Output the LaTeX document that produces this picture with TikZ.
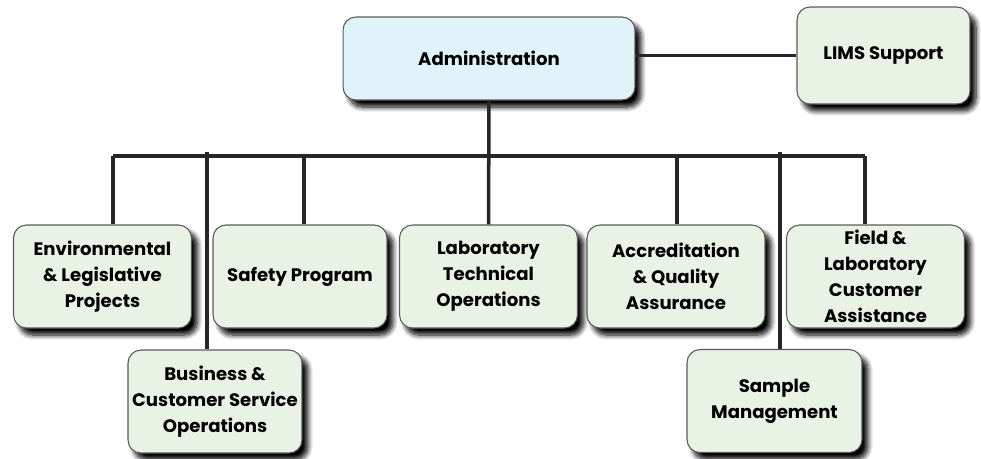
\documentclass[tikz,border=0pt]{standalone}
\usepackage{fontspec}
\setmainfont{Poppins}
\usepackage{tikz}
\usetikzlibrary{positioning,shadows.blur}
\definecolor{unitfill}{HTML}{E8F3E5}
\definecolor{headfill}{HTML}{E0F2FA}
\definecolor{rim}{HTML}{5A5A5A}

\tikzset{
  box/.style={draw=rim, line width=0.6pt, rounded corners=0.26cm,
    align=center, inner sep=0pt, font=\bfseries\fontsize{10.3}{14.7}\selectfont,
    blur shadow={shadow xshift=0.12cm, shadow yshift=-0.14cm,
      shadow blur radius=0.1cm, shadow blur steps=8, shadow opacity=100}},
  unit/.style={box, fill=unitfill, minimum width=3.56cm, minimum height=2.06cm},
  head/.style={box, fill=headfill, minimum width=5.84cm, minimum height=1.66cm},
  wire/.style={line width=2pt, color=black!85}
}

\begin{document}
\begin{tikzpicture}[x=0.02cm,y=-0.02cm]
      \useasboundingbox (0,0) rectangle (981,458);
      \path
      (489,58.5) node[head](admin) {Administration}
      (883.5,55.5) node[unit, minimum width=3.46cm, minimum height=1.94cm](lims) {LIMS Support}
      (102.5,276.5) node[unit](env) {Environmental\\ \& Legislative\\ Projects}
      (300,276.5) node[unit, minimum width=3.48cm](safety) {Safety Program}
      (488.5,276.5) node[unit](labtech) {Laboratory\\ Technical\\ Operations}
      (676,276.5) node[unit](accred) {Accreditation\\ \& Quality\\ Assurance}
      (875.5,276.5) node[unit](field) {Field \&\\ Laboratory\\ Customer\\ Assistance}
      (215,401.5) node[unit, minimum width=3.48cm](business) {Business \&\\ Customer Service\\ Operations}
      (774.5,401) node[unit, minimum width=3.5cm](sample) {Sample\\ Management}
      ;

      % bus bar under the head office
      \coordinate (busl) at (113,156);
      \coordinate (busr) at (865,156);
      \coordinate (tapb) at (207,152);
      \coordinate (taps) at (780,152);

      \draw[wire] (admin.east |- lims.west) -- (lims.west);
      \draw[wire] (admin.south) -- (labtech.north);
      \draw[wire] (busl) -- (busr);
      \draw[wire] (busl) -- (busl |- env.north);
      \draw[wire] (busr) -- (busr |- field.north);
      \draw[wire] (safety.north -| 304,0) -- (304,156);
      \draw[wire] (accred.north -| 677,0) -- (677,156);
      \draw[wire] (tapb) -- (tapb |- business.north);
      \draw[wire] (taps) -- (taps |- sample.north);
    \end{tikzpicture}
\end{document}
